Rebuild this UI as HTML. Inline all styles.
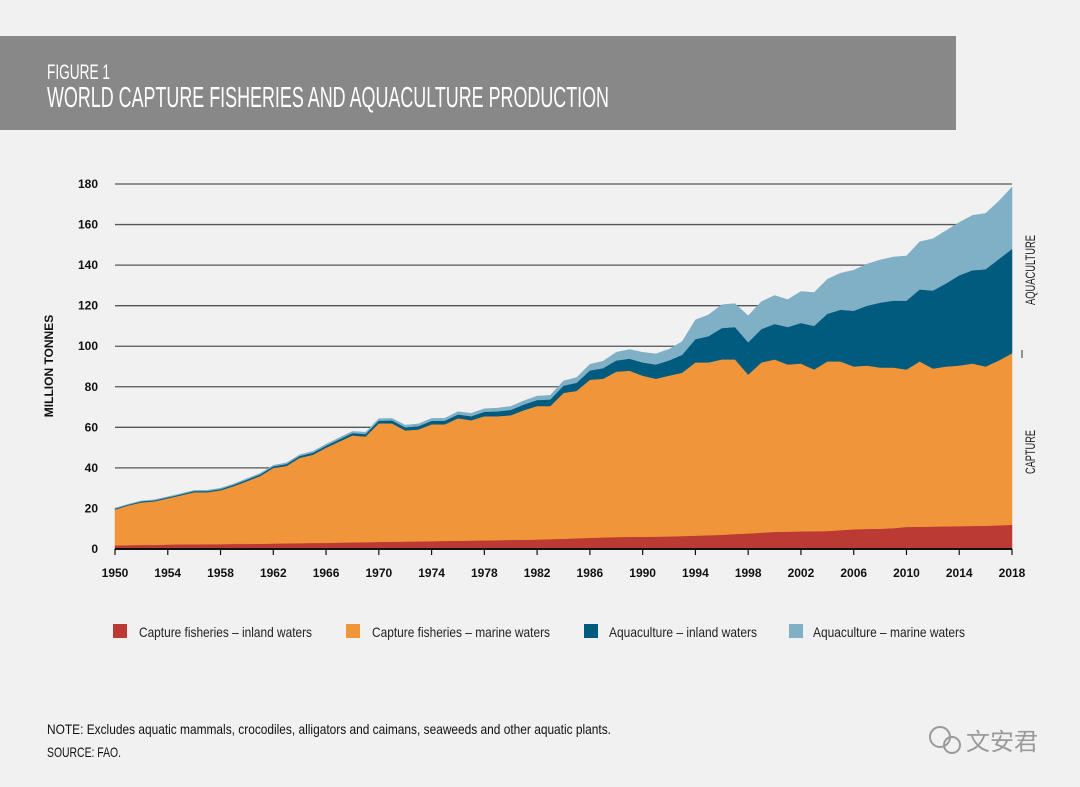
<!DOCTYPE html>
<html><head><meta charset="utf-8"><style>
body{margin:0;background:#f1f1f1;}
svg{display:block;font-family:"Liberation Sans Narrow","Liberation Sans",sans-serif;}
</style></head><body>
<svg id="chart" width="1080" height="787" viewBox="0 0 1080 787" xmlns="http://www.w3.org/2000/svg">
<rect x="0" y="0" width="1080" height="787" fill="#f1f1f1"/>
<rect x="0" y="36" width="956" height="94" fill="#888888"/>
<text x="47" y="79" fill="#fff" font-size="21" textLength="63" lengthAdjust="spacingAndGlyphs">FIGURE 1</text>
<text x="47" y="107" fill="#fff" font-size="29" textLength="562" lengthAdjust="spacingAndGlyphs">WORLD CAPTURE FISHERIES AND AQUACULTURE PRODUCTION</text>
<g id="grid"></g>
<g id="areas"></g>
<g id="axes"></g>
<text transform="translate(53,366) rotate(-90)" text-anchor="middle" font-size="12" font-weight="bold" fill="#111">MILLION TONNES</text>
<text transform="translate(1035,270) rotate(-90)" text-anchor="middle" font-size="14" fill="#222" textLength="70" lengthAdjust="spacingAndGlyphs">AQUACULTURE</text>
<line x1="1022" y1="350" x2="1022" y2="358" stroke="#333" stroke-width="1"/>
<text transform="translate(1035,452) rotate(-90)" text-anchor="middle" font-size="14" fill="#222" textLength="44" lengthAdjust="spacingAndGlyphs">CAPTURE</text>
<g>
<rect x="113" y="624" width="14" height="14" fill="#bb3a33"/>
<text x="139" y="637" font-size="14" fill="#222" textLength="173" lengthAdjust="spacingAndGlyphs">Capture fisheries – inland waters</text>
<rect x="346" y="624" width="14" height="14" fill="#f0953a"/>
<text x="372" y="637" font-size="14" fill="#222" textLength="178" lengthAdjust="spacingAndGlyphs">Capture fisheries – marine waters</text>
<rect x="584" y="624" width="14" height="14" fill="#005b7f"/>
<text x="609" y="637" font-size="14" fill="#222" textLength="148" lengthAdjust="spacingAndGlyphs">Aquaculture – inland waters</text>
<rect x="789" y="624" width="14" height="14" fill="#7fb0c6"/>
<text x="813" y="637" font-size="14" fill="#222" textLength="152" lengthAdjust="spacingAndGlyphs">Aquaculture – marine waters</text>
</g>
<text x="47" y="734" font-size="14" fill="#111" textLength="564" lengthAdjust="spacingAndGlyphs">NOTE: Excludes aquatic mammals, crocodiles, alligators and caimans, seaweeds and other aquatic plants.</text>
<text x="47" y="757" font-size="14" fill="#111" textLength="74" lengthAdjust="spacingAndGlyphs">SOURCE: FAO.</text>
<g>
<circle cx="940" cy="737" r="10" fill="none" stroke="#9a9a9a" stroke-width="2"/>
<circle cx="952" cy="745" r="8" fill="none" stroke="#9a9a9a" stroke-width="2"/>
<text x="966" y="750" font-size="24" fill="#9a9a9a" font-family="'Noto Sans CJK SC',sans-serif">文安君</text>
</g>
</svg>
<script>
const years=[];for(let y=1950;y<=2018;y++)years.push(y);
const captureInland=[1.8,1.9,2.0,2.0,2.2,2.3,2.3,2.4,2.4,2.5,2.5,2.6,2.7,2.8,2.9,3.0,3.0,3.2,3.3,3.4,3.5,3.6,3.7,3.8,3.9,4.0,4.1,4.2,4.3,4.4,4.5,4.6,4.7,4.9,5.1,5.3,5.5,5.7,5.9,6.0,6.0,6.1,6.2,6.4,6.6,6.8,7.0,7.4,7.7,8.1,8.5,8.6,8.7,8.8,8.9,9.3,9.7,9.9,10.0,10.3,10.9,11.0,11.1,11.2,11.3,11.4,11.5,11.7,12.0];
const captureMarine=[17.7,19.6,21,21.5,22.8,24.2,25.7,25.6,26.6,28.5,31,33.4,37.3,38.2,42.1,43.5,47,49.8,52.7,52.1,58.5,58.4,54.8,55.2,57.6,57.5,60.4,59.3,61.2,61.1,61.5,63.9,65.8,65.6,71.9,72.7,78,78.3,81.6,82,79.5,77.9,79.3,80.6,85.4,85.2,86.5,86.1,78.3,83.9,85,82.4,82.8,79.7,83.6,83.2,80.3,80.6,79.5,79.2,77.6,81.5,77.9,78.8,79.2,80.1,78.5,81.3,84.5];
const aquaInland=[0.4,0.4,0.5,0.5,0.5,0.5,0.6,0.6,0.6,0.7,0.7,0.8,0.8,0.9,0.9,1.0,1.0,1.1,1.2,1.2,1.3,1.4,1.5,1.6,1.7,1.8,1.9,2.0,2.2,2.4,2.6,2.8,3.0,3.3,3.6,4.0,4.6,5.2,5.5,5.9,6.5,7.0,7.5,8.8,11.5,13.0,15.5,16.0,16.0,16.5,17.5,18.5,20.0,21.5,23.5,25.5,27.5,29.5,32,33,34,35.5,38.5,41,44.5,46,48,50,51.5];
const aquaMarine=[0.2,0.2,0.2,0.3,0.3,0.3,0.3,0.4,0.4,0.4,0.5,0.5,0.5,0.6,0.6,0.7,0.7,0.8,0.8,0.9,1.0,1.0,1.1,1.1,1.2,1.2,1.3,1.4,1.5,1.6,1.7,1.8,1.9,2.0,2.3,2.6,3.0,3.4,4.0,4.5,5.0,5.2,5.5,6.5,9.5,10.5,11.5,11.5,13.0,13.5,14,13.5,15.5,16.5,17,18,20,20.5,21,21.5,22,23.5,25.5,26,26,27,27.5,28.5,30.5];
const yTicks=[0,20,40,60,80,100,120,140,160,180];
const xTickYears=[1950,1954,1958,1962,1966,1970,1974,1978,1982,1986,1990,1994,1998,2002,2006,2010,2014,2018];
const NS='http://www.w3.org/2000/svg';
const X0=115,X1=1012,Y0=549,Y180=184;
const xs=y=>X0+(y-1950)/(2018-1950)*(X1-X0);
const ys=v=>Y0-v/180*(Y0-Y180);
function mk(t,a,p){const e=document.createElementNS(NS,t);for(const k in a)e.setAttribute(k,a[k]);p.appendChild(e);return e;}
const grid=document.getElementById('grid');
yTicks.forEach(v=>{if(v===0)return;const l=mk('line',{x1:X0,x2:X1,y1:ys(v),y2:ys(v),stroke:'#555','stroke-width':1.3},grid);

});
const series=[[captureInland,'#bb3a33','area-capture-inland'],[captureMarine,'#f0953a','area-capture-marine'],[aquaInland,'#005b7f','area-aquaculture-inland'],[aquaMarine,'#7fb0c6','area-aquaculture-marine']];
const areas=document.getElementById('areas');
let base=years.map(()=>0);
series.forEach(([vals,col,name])=>{
 const top=base.map((b,i)=>b+vals[i]);
 let d='M'+years.map((y,i)=>xs(y).toFixed(1)+','+ys(top[i]).toFixed(1)).join('L');
 for(let i=years.length-1;i>=0;i--)d+='L'+xs(years[i]).toFixed(1)+','+ys(base[i]).toFixed(1);
 const p=mk('path',{d:d+'Z',fill:col,stroke:col,'stroke-width':0.5},areas);
 
 
 base=top;});
const axes=document.getElementById('axes');
const bl=mk('line',{x1:X0,x2:X1,y1:Y0,y2:Y0,stroke:'#111','stroke-width':2},axes);


yTicks.forEach(v=>{const t=mk('text',{x:98,y:ys(v)+4,'text-anchor':'end','font-size':12,'font-weight':'bold',fill:'#111'},axes);t.textContent=v;

});
xTickYears.forEach(y=>{const l=mk('line',{x1:xs(y),x2:xs(y),y1:Y0,y2:Y0+6,stroke:'#111','stroke-width':1.2},axes);


const t=mk('text',{x:xs(y),y:Y0+28,'text-anchor':'middle','font-size':12,'font-weight':'bold',fill:'#111'},axes);t.textContent=y;

});
</script>
</body></html>
